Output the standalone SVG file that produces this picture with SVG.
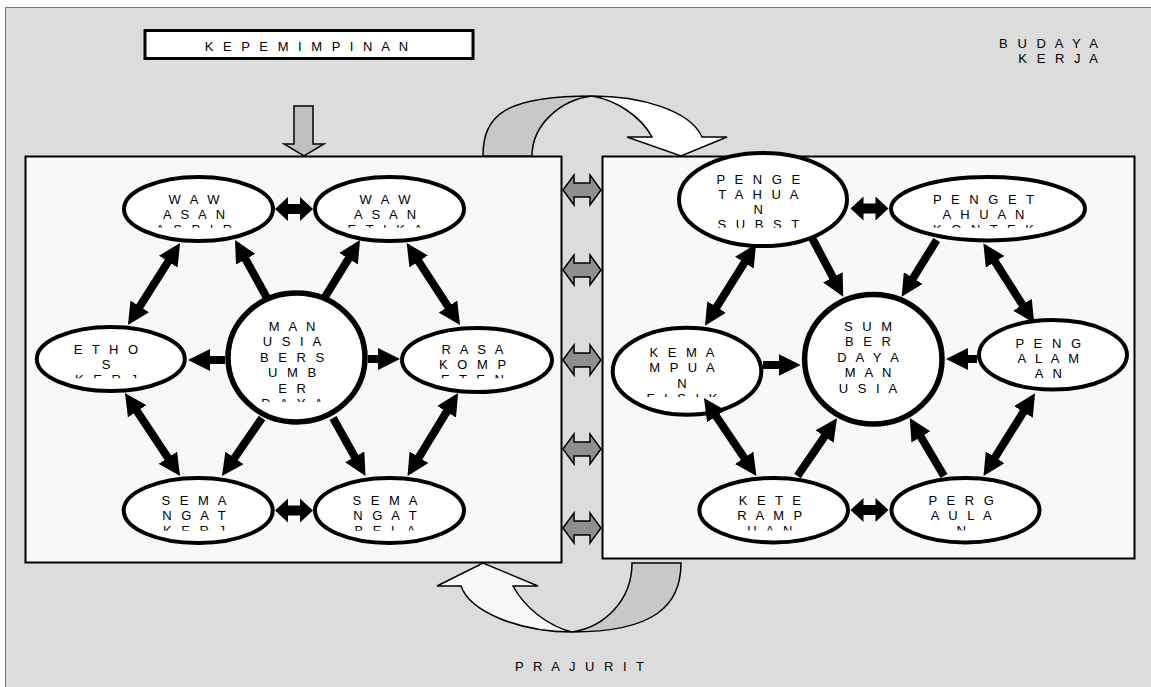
<svg xmlns="http://www.w3.org/2000/svg" width="1151" height="687" viewBox="0 0 1151 687">
<style>
.t{font-family:"Liberation Sans",Arial,sans-serif;font-size:13px;letter-spacing:3px;fill:#000;text-anchor:middle}
.nd{fill:#fff;stroke:#000;stroke-width:4}
.cc{fill:#fff;stroke:#000;stroke-width:5.5}
.pn{fill:#f8f8f8;stroke:#000;stroke-width:2}
.ar{stroke:#000;stroke-width:8;fill:none;marker-end:url(#hd)}
.ar2{stroke:#000;stroke-width:8;fill:none;marker-end:url(#hd);marker-start:url(#hd)}
.mg{fill:#8f8f8f;stroke:#000;stroke-width:1.5}
</style>
<defs>
<marker id="hd" markerUnits="userSpaceOnUse" markerWidth="22" markerHeight="22" viewBox="0 0 22 22" refX="4" refY="11" orient="auto-start-reverse">
<path d="M0,0 L22,11 L0,22 Z" fill="#000"/>
</marker>
<path id="dbl" d="M0,0 L13,-12 L13,-5 L25,-5 L25,-12 L38,0 L25,12 L25,5 L13,5 L13,12 Z" fill="#000"/>
<path id="gdbl" d="M0,0 L11,-15 L11,-7 L27,-7 L27,-15 L38,0 L27,15 L27,7 L11,7 L11,15 Z"/>
<clipPath id="c1"><rect x="0" y="150" width="1151" height="77.8"/></clipPath>
<clipPath id="c2"><rect x="0" y="300" width="1151" height="78.3"/></clipPath>
<clipPath id="c3"><rect x="0" y="300" width="1151" height="102"/></clipPath>
<clipPath id="c4"><rect x="0" y="300" width="1151" height="97"/></clipPath>
<clipPath id="c5"><rect x="0" y="300" width="1151" height="80"/></clipPath>
<clipPath id="c6"><rect x="0" y="450" width="1151" height="80.5"/></clipPath>
</defs>
<rect x="0" y="0" width="1151" height="687" fill="#fff"/>
<rect x="5.5" y="7.5" width="1150" height="690" fill="#dcdcdc" stroke="#000" stroke-width="1" stroke-dasharray="1 1"/>

<g id="kepemimpinan">
<rect x="145" y="30.5" width="328" height="28" fill="#fff" stroke="#000" stroke-width="3"/>
<text class="t" x="308" y="51">K E P E M I M P I N A N</text>
</g>
<g id="budaya-kerja">
<text class="t" style="text-anchor:end" x="1101" y="47.5">B U D A Y A</text>
<text class="t" style="text-anchor:end" x="1101" y="62.5">K E R J A</text>
</g>
<g id="prajurit">
<text class="t" x="581" y="670.5">P R A J U R I T</text>
</g>

<g id="panel-left"><rect class="pn" x="25.5" y="156.5" width="536" height="406"/></g>
<g id="panel-right"><rect class="pn" x="602.5" y="156.5" width="532" height="402"/></g>

<g id="n-aspir">
<ellipse class="nd" cx="198.5" cy="209" rx="74.5" ry="32"/>
<g clip-path="url(#c1)">
<text class="t" x="195.5" y="203.6">W A W</text>
<text class="t" x="195.5" y="218.8">A S A N</text>
<text class="t" x="195.5" y="234">A S P I R</text>
</g>
</g>
<g id="n-etika">
<ellipse class="nd" cx="389.5" cy="209" rx="74.5" ry="32"/>
<g clip-path="url(#c1)">
<text class="t" x="386.5" y="203.6">W A W</text>
<text class="t" x="386.5" y="218.8">A S A N</text>
<text class="t" x="386.5" y="234">E T I K A</text>
</g>
</g>
<g id="n-ethos">
<ellipse class="nd" cx="110.8" cy="359" rx="74" ry="32"/>
<g clip-path="url(#c2)">
<text class="t" x="107.5" y="353.8">E T H O</text>
<text class="t" x="107.5" y="368.9">S</text>
<text class="t" x="107.5" y="384">K E R J</text>
</g>
</g>
<g id="n-rasa">
<ellipse class="nd" cx="477" cy="360" rx="75" ry="32"/>
<g clip-path="url(#c2)">
<text class="t" x="474" y="353.8">R A S A</text>
<text class="t" x="474" y="369">K O M P</text>
<text class="t" x="474" y="384.2">E T E N</text>
</g>
</g>
<g id="n-semangat-kerja">
<ellipse class="nd" cx="198.2" cy="510.5" rx="74.5" ry="32.5"/>
<g clip-path="url(#c6)">
<text class="t" x="195.5" y="504.5">S E M A</text>
<text class="t" x="195.5" y="519.7">N G A T</text>
<text class="t" x="195.5" y="535">K E R J</text>
</g>
</g>
<g id="n-semangat-bela">
<ellipse class="nd" cx="389.5" cy="510.5" rx="74.5" ry="32.5"/>
<g clip-path="url(#c6)">
<text class="t" x="386.5" y="504.5">S E M A</text>
<text class="t" x="386.5" y="519.7">N G A T</text>
<text class="t" x="386.5" y="535">B E L A</text>
</g>
</g>
<g id="n-manusia">
<ellipse class="cc" cx="296.5" cy="357.5" rx="68.5" ry="64.5"/>
<g clip-path="url(#c3)">
<text class="t" x="293.5" y="330.5">M A N</text>
<text class="t" x="293.5" y="346">U S I A</text>
<text class="t" x="293.5" y="361.5">B E R S</text>
<text class="t" x="293.5" y="377">U M B</text>
<text class="t" x="293.5" y="392.5">E R</text>
<text class="t" x="293.5" y="408">D A Y A</text>
</g>
</g>

<g id="n-substansi">
<ellipse class="nd" cx="763" cy="199.5" rx="84" ry="46.5"/>
<g clip-path="url(#c1)">
<text class="t" x="759.8" y="183.8">P E N G E</text>
<text class="t" x="759.8" y="198.8">T A H U A</text>
<text class="t" x="759.8" y="213.8">N</text>
<text class="t" x="759.8" y="228.8">S U B S T</text>
</g>
</g>
<g id="n-kontek">
<ellipse class="nd" cx="988" cy="208.7" rx="97" ry="31.7"/>
<g clip-path="url(#c1)">
<text class="t" x="985" y="203.8">P E N G E T</text>
<text class="t" x="985" y="218.8">A H U A N</text>
<text class="t" x="985" y="233.8">K O N T E K</text>
</g>
</g>
<g id="n-kemampuan">
<ellipse class="nd" cx="687" cy="371.2" rx="74.3" ry="43.5"/>
<g clip-path="url(#c4)">
<text class="t" x="683.5" y="357.2">K E M A</text>
<text class="t" x="683.5" y="372.4">M P U A</text>
<text class="t" x="683.5" y="387.6">N</text>
<text class="t" x="683.5" y="402.8">F I S I K</text>
</g>
</g>
<g id="n-pengalaman">
<ellipse class="nd" cx="1053" cy="354.8" rx="74" ry="34.8"/>
<g clip-path="url(#c5)">
<text class="t" x="1049.8" y="347.5">P E N G</text>
<text class="t" x="1049.8" y="362.8">A L A M</text>
<text class="t" x="1049.8" y="378.1">A N</text>
</g>
</g>
<g id="n-keterampilan">
<ellipse class="nd" cx="773.7" cy="510.2" rx="74.3" ry="32.2"/>
<g clip-path="url(#c6)">
<text class="t" x="771.3" y="504.5">K E T E</text>
<text class="t" x="771.3" y="519.7">R A M P</text>
<text class="t" x="771.3" y="535">U A N</text>
</g>
</g>
<g id="n-pergaulan">
<ellipse class="nd" cx="965.5" cy="510.2" rx="74" ry="32.2"/>
<g clip-path="url(#c6)">
<text class="t" x="962.7" y="504.5">P E R G</text>
<text class="t" x="962.7" y="519.7">A U L A</text>
<text class="t" x="962.7" y="535">N</text>
</g>
</g>
<g id="n-sdm">
<ellipse class="cc" cx="873.3" cy="359.3" rx="68.7" ry="64.7"/>
<text class="t" x="869.5" y="330.5">S U M</text>
<text class="t" x="869.5" y="346">B E R</text>
<text class="t" x="869.5" y="361.5">D A Y A</text>
<text class="t" x="869.5" y="377">M A N</text>
<text class="t" x="869.5" y="392.5">U S I A</text>
</g>

<g id="connectors">
<path d="M294,106 L313,106 L313,144 L324,144 L304,156 L284,144 L294,144 Z" fill="#c0c0c0" stroke="#000" stroke-width="1.5"/>
<path d="M483,156 C483,115 505,96 592,96 C560,100 532,125 532,156 Z" fill="#c8c8c8" stroke="#000" stroke-width="1.5"/>
<path d="M592,96 C640,96 690,110 702,137 L727,137 L681,156 L627,137 L652,137 C640,115 615,100 592,96 Z" fill="#fff" stroke="#000" stroke-width="1.5"/>
<path d="M681,563 C681,605 655,632 572,632 C605,627 632,600 632,563 Z" fill="#c8c8c8" stroke="#000" stroke-width="1.5"/>
<path d="M572,632 C520,632 470,612 461,586 L437,586 L483,563 L538,586 L513,586 C525,608 548,626 572,632 Z" fill="#f8f8f8" stroke="#000" stroke-width="1.5"/>
<use href="#gdbl" class="mg" transform="translate(563,190)"/>
<use href="#gdbl" class="mg" transform="translate(563,270)"/>
<use href="#gdbl" class="mg" transform="translate(563,360)"/>
<use href="#gdbl" class="mg" transform="translate(563,449)"/>
<use href="#gdbl" class="mg" transform="translate(563,528)"/>
<use href="#dbl" transform="translate(275,209)"/>
<use href="#dbl" transform="translate(275,510.5)"/>
<use href="#dbl" transform="translate(850.5,208.5)"/>
<use href="#dbl" transform="translate(850.5,510)"/>
<line class="ar2" x1="137.6" y1="309.8" x2="170.4" y2="258.2"/>
<line class="ar" x1="267" y1="298" x2="243.7" y2="255.8"/>
<line class="ar" x1="225" y1="360" x2="206" y2="360"/>
<line class="ar2" x1="134.9" y1="408" x2="170.1" y2="461"/>
<line class="ar" x1="325" y1="297" x2="350.6" y2="255.3"/>
<line class="ar2" x1="416.5" y1="258.1" x2="450.2" y2="309.9"/>
<line class="ar" x1="368" y1="359" x2="382" y2="359"/>
<line class="ar2" x1="448.7" y1="408.4" x2="416.9" y2="460.6"/>
<line class="ar" x1="262" y1="418" x2="232.2" y2="461.2"/>
<line class="ar" x1="333" y1="418" x2="356.7" y2="460.3"/>
<line class="ar" x1="811.7" y1="237.3" x2="834.8" y2="280.8"/>
<line class="ar2" x1="746.5" y1="259.3" x2="714.5" y2="310.4"/>
<line class="ar" x1="763" y1="365" x2="782.7" y2="365"/>
<line class="ar" x1="936.7" y1="240" x2="911.1" y2="281.4"/>
<line class="ar2" x1="993" y1="258.5" x2="1024.6" y2="308.1"/>
<line class="ar" x1="977" y1="359" x2="964" y2="359"/>
<line class="ar2" x1="714" y1="412.9" x2="746.4" y2="461.1"/>
<line class="ar" x1="797.5" y1="476" x2="826.8" y2="433.2"/>
<line class="ar" x1="944" y1="476" x2="918.9" y2="433.5"/>
<line class="ar2" x1="1025.5" y1="408.6" x2="993" y2="460.7"/>
</g>
</svg>
